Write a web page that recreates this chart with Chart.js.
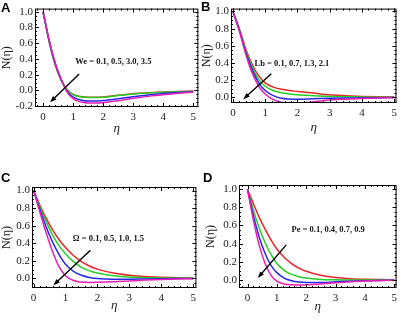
<!DOCTYPE html>
<html>
<head>
<meta charset="utf-8">
<script src="https://cdn.jsdelivr.net/npm/chart.js@4.4.1/dist/chart.umd.min.js"></script>
<style>
    html, body { margin: 0; padding: 0; background: #fff; }
    #wrap { position: relative; width: 401px; height: 320px; overflow: hidden; }
    .panel { position: absolute; }
    .letter { position: absolute; font: bold 13px "Liberation Sans", Arial, sans-serif; color: #000; line-height: 13px; }
</style>
</head>
<body>
<div id="wrap">
    <div class="panel" style="left:0;top:0"><canvas id="chartA" width="200" height="160"></canvas></div>
    <div class="panel" style="left:200px;top:0"><canvas id="chartB" width="201" height="160"></canvas></div>
    <div class="panel" style="left:0;top:160px"><canvas id="chartC" width="200" height="160"></canvas></div>
    <div class="panel" style="left:200px;top:160px"><canvas id="chartD" width="201" height="160"></canvas></div>
    <div class="letter" style="left:1px;top:1px">A</div>
    <div class="letter" style="left:201px;top:0px">B</div>
    <div class="letter" style="left:1px;top:171px">C</div>
    <div class="letter" style="left:203px;top:171px">D</div>
</div>
<script>
// eta grid shared by all four panels
const etaValues = [0, 0.2, 0.4, 0.6, 0.8, 1, 1.25, 1.5, 1.75, 2, 2.5, 3, 3.5, 4, 4.5, 5]

// panel A: We = 0.1, 0.5, 3.0, 3.5
const weSeries01 = [1, 0.62, 0.33, 0.13, 0.01, -0.05, -0.078, -0.087, -0.087, -0.082, -0.062, -0.043, -0.03, -0.02, -0.013, -0.008]
const weSeries05 = [1, 0.625, 0.335, 0.135, 0.01, -0.052, -0.08, -0.09, -0.09, -0.085, -0.065, -0.045, -0.032, -0.022, -0.015, -0.01]
const weSeries30 = [1, 0.635, 0.345, 0.14, -0.01, -0.085, -0.12, -0.135, -0.135, -0.128, -0.105, -0.08, -0.058, -0.04, -0.026, -0.015]
const weSeries35 = [1, 0.645, 0.355, 0.145, -0.02, -0.105, -0.145, -0.16, -0.16, -0.155, -0.13, -0.1, -0.075, -0.055, -0.035, -0.02]

// panel B: Lb = 0.1, 0.7, 1.3, 2.1
const lbSeries01 = [1, 0.8, 0.56, 0.38, 0.25, 0.17, 0.12, 0.095, 0.08, 0.07, 0.05, 0.03, 0.02, 0.012, 0.007, 0.004]
const lbSeries07 = [1, 0.79, 0.54, 0.35, 0.21, 0.13, 0.08, 0.055, 0.04, 0.03, 0.02, 0.012, 0.007, 0.004, 0.002, 0.001]
const lbSeries13 = [1, 0.78, 0.52, 0.32, 0.17, 0.08, 0.02, -0.01, -0.018, -0.02, -0.015, -0.01, -0.007, -0.005, -0.003, -0.002]
const lbSeries21 = [1, 0.77, 0.5, 0.28, 0.13, 0.04, -0.025, -0.055, -0.065, -0.065, -0.05, -0.03, -0.02, -0.012, -0.007, -0.004]

// panel C: Omega = 0.1, 0.5, 1.0, 1.5
const omSeries01 = [1, 0.83, 0.68, 0.55, 0.44, 0.35, 0.26, 0.19, 0.14, 0.105, 0.06, 0.035, 0.02, 0.012, 0.007, 0.004]
const omSeries05 = [1, 0.81, 0.64, 0.49, 0.37, 0.28, 0.19, 0.125, 0.085, 0.06, 0.03, 0.015, 0.008, 0.004, 0.002, 0.001]
const omSeries10 = [1, 0.78, 0.58, 0.41, 0.27, 0.16, 0.08, 0.035, 0.01, -0.003, -0.01, -0.009, -0.007, -0.005, -0.003, -0.002]
const omSeries15 = [1, 0.75, 0.51, 0.3, 0.13, 0.03, -0.025, -0.042, -0.046, -0.045, -0.04, -0.03, -0.02, -0.012, -0.007, -0.004]

// panel D: Pe = 0.1, 0.4, 0.7, 0.9
const peSeries01 = [1, 0.84, 0.69, 0.56, 0.44, 0.34, 0.25, 0.18, 0.13, 0.095, 0.05, 0.025, 0.012, 0.006, 0.003, 0.001]
const peSeries04 = [1, 0.77, 0.57, 0.41, 0.28, 0.18, 0.105, 0.06, 0.035, 0.02, 0.005, 0, -0.002, -0.002, -0.001, 0]
const peSeries07 = [1, 0.71, 0.47, 0.29, 0.16, 0.08, 0.02, -0.01, -0.025, -0.03, -0.03, -0.022, -0.015, -0.01, -0.006, -0.003]
const peSeries09 = [1, 0.66, 0.38, 0.18, 0.05, -0.015, -0.045, -0.055, -0.058, -0.055, -0.045, -0.033, -0.022, -0.014, -0.008, -0.004]

const paramLabels = ["We = 0.1, 0.5, 3.0, 3.5", "Lb = 0.1, 0.7, 1.3, 2.1", "\u03a9 = 0.1, 0.5, 1.0, 1.5", "Pe = 0.1, 0.4, 0.7, 0.9"]

const lineColors = ["rgb(232,38,38)", "rgb(38,205,38)", "rgb(40,40,232)", "rgb(232,30,180)"]
const serif = "'Liberation Serif', 'Times New Roman', serif"

// frame with inward major/minor ticks on all four sides
const framePlugin = {
    id: "frame",
    afterDatasetsDraw(chart) {
        const { ctx, chartArea: a, scales } = chart
        const ticksFor = (scale, step) => {
            const out = []
            for (let v = Math.ceil(scale.min / step - 1e-9) * step; v <= scale.max + 1e-9; v += step) out.push(v)
            return out
        }
        ctx.save()
        ctx.strokeStyle = "#000"
        ctx.lineWidth = 1
        ctx.strokeRect(a.left + 0.5, a.top + 0.5, a.right - a.left - 1, a.bottom - a.top - 1)
        ctx.beginPath()
        const drawX = (step, len) => {
            ticksFor(scales.x, step).forEach((v) => {
                const px = Math.round(scales.x.getPixelForValue(v)) + 0.5
                ctx.moveTo(px, a.bottom); ctx.lineTo(px, a.bottom - len)
                ctx.moveTo(px, a.top); ctx.lineTo(px, a.top + len)
            })
        }
        const drawY = (step, len) => {
            ticksFor(scales.y, step).forEach((v) => {
                const py = Math.round(scales.y.getPixelForValue(v)) + 0.5
                ctx.moveTo(a.left, py); ctx.lineTo(a.left + len, py)
                ctx.moveTo(a.right, py); ctx.lineTo(a.right - len, py)
            })
        }
        drawX(1, 4); drawX(0.2, 2)
        drawY(0.2, 4); drawY(0.05, 2)
        ctx.stroke()
        ctx.restore()
    },
}

// parameter label and arrow, placed in data units
const notePlugin = {
    id: "note",
    afterDatasetsDraw(chart, args, opts) {
        const { ctx, scales } = chart
        const px = (v) => scales.x.getPixelForValue(v)
        const py = (v) => scales.y.getPixelForValue(v)
        ctx.save()
        ctx.fillStyle = "#111"
        ctx.font = "bold 8.5px " + serif
        ctx.textBaseline = "middle"
        ctx.fillText(opts.text, px(opts.textAt[0]), py(opts.textAt[1]))

        const x1 = px(opts.from[0]), y1 = py(opts.from[1])
        const x2 = px(opts.to[0]), y2 = py(opts.to[1])
        const ang = Math.atan2(y2 - y1, x2 - x1)
        ctx.strokeStyle = "#000"
        ctx.lineWidth = 1.4
        ctx.beginPath()
        ctx.moveTo(x1, y1)
        ctx.lineTo(x2 - 4 * Math.cos(ang), y2 - 4 * Math.sin(ang))
        ctx.stroke()
        ctx.fillStyle = "#000"
        ctx.beginPath()
        ctx.moveTo(x2, y2)
        ctx.lineTo(x2 - 7 * Math.cos(ang - 0.35), y2 - 7 * Math.sin(ang - 0.35))
        ctx.lineTo(x2 - 7 * Math.cos(ang + 0.35), y2 - 7 * Math.sin(ang + 0.35))
        ctx.closePath()
        ctx.fill()
        ctx.restore()
    },
}

const makePanel = (id, series, cfg) => {
    return new Chart(document.getElementById(id), {
        type: "line",
        data: {
            datasets: series.map((values, i) => ({
                data: etaValues.map((x, j) => ({ x, y: values[j] })),
                borderColor: lineColors[i],
                borderWidth: 1.5,
                pointRadius: 0,
                fill: false,
                cubicInterpolationMode: "monotone",
                order: 4 - i,
            })),
        },
        options: {
            responsive: false,
            animation: false,
            events: [],
            layout: { padding: cfg.padding },
            plugins: {
                legend: { display: false },
                tooltip: { enabled: false },
                note: cfg.note,
            },
            scales: {
                x: {
                    type: "linear",
                    min: cfg.xRange[0],
                    max: cfg.xRange[1],
                    afterFit: (s) => { s.height = cfg.xHeight },
                    grid: { display: false, drawTicks: false },
                    border: { display: false },
                    ticks: { stepSize: 1, includeBounds: false, padding: 4, maxRotation: 0, color: "#222", font: { family: serif, size: 11 } },
                    title: { display: true, text: "\u03b7", color: "#222", padding: 0, font: { family: serif, size: 13, style: "italic" } },
                },
                y: {
                    type: "linear",
                    min: cfg.yRange[0],
                    max: cfg.yRange[1],
                    afterFit: (s) => { s.width = cfg.yWidth },
                    grid: { display: false, drawTicks: false },
                    border: { display: false },
                    ticks: {
                        stepSize: 0.2,
                        includeBounds: false,
                        padding: 2,
                        color: "#222",
                        font: { family: serif, size: 11 },
                        callback: (v) => (Math.abs(v) < 1e-9 ? "0.0" : v.toFixed(1)),
                    },
                    title: { display: true, text: "N(\u03b7)", color: "#222", padding: 0, font: { family: serif, size: 12 } },
                },
            },
        },
        plugins: [framePlugin, notePlugin],
    })
}

makePanel("chartA", [weSeries01, weSeries05, weSeries30, weSeries35], {
    padding: { left: 0, right: 1, top: 6, bottom: 24 },
    xRange: [-0.27, 5.17], yRange: [-0.21, 1.04],
    xHeight: 29, yWidth: 35,
    note: { text: paramLabels[0], textAt: [1.07, 0.36], from: [1.2, 0.21], to: [0.23, -0.15] },
})

makePanel("chartB", [lbSeries01, lbSeries07, lbSeries13, lbSeries21], {
    padding: { left: 0, right: 3, top: 2, bottom: 25 },
    xRange: [-0.06, 5.07], yRange: [-0.065, 1.033],
    xHeight: 32, yWidth: 31,
    note: { text: paramLabels[1], textAt: [0.67, 0.39], from: [1.19, 0.275], to: [0.32, -0.02] },
})

makePanel("chartC", [omSeries01, omSeries05, omSeries10, omSeries15], {
    padding: { left: 0, right: 3, top: 27, bottom: 7 },
    xRange: [-0.05, 5.1], yRange: [-0.11, 1.04],
    xHeight: 25, yWidth: 32,
    note: { text: paramLabels[2], textAt: [1.23, 0.45], from: [1.78, 0.32], to: [0.62, -0.08] },
})

makePanel("chartD", [peSeries01, peSeries04, peSeries07, peSeries09], {
    padding: { left: 4, right: 2, top: 25, bottom: 6 },
    xRange: [-0.29, 5.08], yRange: [-0.09, 1.047],
    xHeight: 26, yWidth: 35,
    note: { text: paramLabels[3], textAt: [1.5, 0.55], from: [1.32, 0.386], to: [0.35, 0.02] },
})
</script>
</body>
</html>
